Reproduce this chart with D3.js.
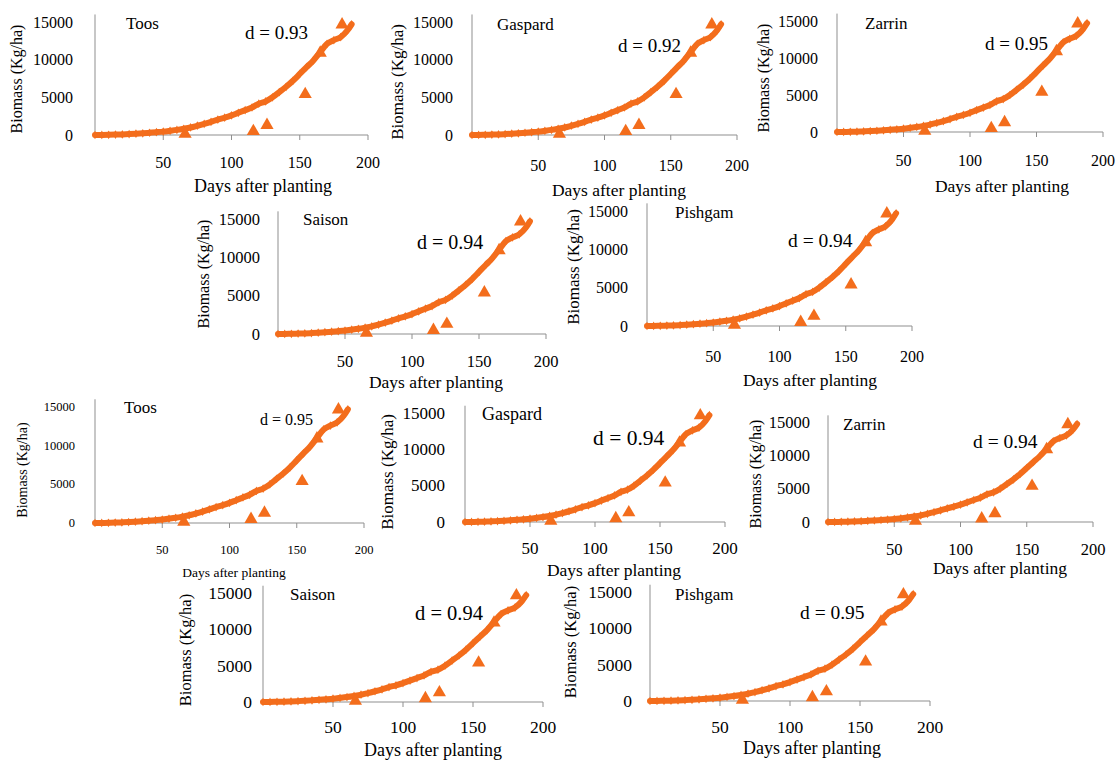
<!DOCTYPE html>
<html><head><meta charset="utf-8">
<script src="https://cdn.jsdelivr.net/npm/d3@7/dist/d3.min.js"></script>
<style>
html,body{margin:0;padding:0;background:#fff;}
svg text{font-family:"Liberation Serif","Times New Roman",serif;fill:#000;}
</style></head>
<body>
<svg id="chart" width="1119" height="760"></svg>
<script>
// ---- data ----
const cultivars = ["Toos","Gaspard","Zarrin","Saison","Pishgam","Toos","Gaspard","Zarrin","Saison","Pishgam"];
const dValues = ["0.93","0.92","0.95","0.94","0.94","0.95","0.94","0.94","0.94","0.95"];
const simDays = [0,5,10,15,20,25,30,35,40,45,50,55,60,65,70,75,80,85,90,95,100,105,110,115,120,125,130,135,140,145,150,155,160,165,170,175,180,185,188];
const simBiomass = [0,10,25,50,80,120,170,230,300,370,450,560,680,830,1000,1230,1480,1750,2050,2300,2600,2950,3300,3650,4150,4450,5000,5700,6400,7200,8100,9000,9900,11000,12100,12600,13000,13900,14700];
const obsDays = [66,116,126,154,165,181];
const obsBiomass = [150,500,1300,5400,10900,14650];
const xTicks = [50,100,150,200];
const yTicks = [0,5000,10000,15000];
const xTitle = "Days after planting";
const yTitle = "Biomass (Kg/ha)";

// ---- layout (positions & font sizes per panel) ----
const layout = [
 {ax:95, x200:368, y0:135, y15:22, tickR:73, xLabY:162, xt:[263,186], yt:[16,79], nm:[126,23], d:[245,32], f:[16,18,16,17,19]},
 {ax:472, x200:737, y0:135, y15:22, tickR:453, xLabY:165, xt:[619,190], yt:[397,82], nm:[497,24], d:[618,45], f:[16,17.5,17,17,19]},
 {ax:837, x200:1103, y0:132, y15:21, tickR:818, xLabY:160, xt:[1002,186], yt:[763,78], nm:[865,23], d:[985,43], f:[16,17.5,16,17,19]},
 {ax:278, x200:546, y0:334, y15:219, tickR:260, xLabY:361, xt:[436,382], yt:[203,274], nm:[303,219], d:[417,242], f:[16.5,17.5,16,17,20]},
 {ax:647, x200:912, y0:326, y15:211, tickR:628, xLabY:356, xt:[810,380], yt:[573,267], nm:[675,212], d:[788,240], f:[16,17.5,17,17,19.5]},
 {ax:95, x200:364, y0:523, y15:407, tickR:75, xLabY:550, xt:[234,572], yt:[22,470], nm:[124,407], d:[260,419], f:[12.5,13.5,14,17,16]},
 {ax:465, x200:725, y0:522, y15:413, tickR:445, xLabY:548, xt:[614,570], yt:[387,472], nm:[482,414], d:[593,438], f:[17,17.5,17,18,21.5]},
 {ax:828, x200:1093, y0:522, y15:422, tickR:810, xLabY:549, xt:[1000,568], yt:[755,474], nm:[843,424], d:[973,441], f:[16.5,17.5,16,17,19.5]},
 {ax:263, x200:543, y0:702, y15:593, tickR:252, xLabY:727, xt:[433,750], yt:[185,650], nm:[290,594], d:[415,613], f:[17.5,18,16.5,17,20.5]},
 {ax:650, x200:930, y0:701, y15:592, tickR:632, xLabY:727, xt:[812,748], yt:[570,642], nm:[675,594], d:[800,612], f:[17.5,18,16.5,17,19.5]}
];

const ORANGE = "#f36d1c";
const AXIS = "#8f8f8f";
const svg = d3.select("#chart");
const sim = simDays.map((d,i)=>({x:d,y:simBiomass[i]}));
const obs = obsDays.map((d,i)=>({x:d,y:obsBiomass[i]}));

layout.forEach((L,i)=>{
  const x = d3.scaleLinear().domain([0,200]).range([L.ax, L.x200]);
  const y = d3.scaleLinear().domain([0,15000]).range([L.y0, L.y15]);
  const g = svg.append("g");
  const yTop = y(16000);

  // axes lines
  g.append("line").attr("x1",L.ax).attr("x2",L.ax).attr("y1",yTop).attr("y2",L.y0)
    .attr("stroke",AXIS).attr("stroke-width",1);
  g.append("line").attr("x1",L.ax).attr("x2",L.x200).attr("y1",L.y0).attr("y2",L.y0)
    .attr("stroke",AXIS).attr("stroke-width",1);
  g.selectAll(".xt").data(xTicks).enter().append("line")
    .attr("x1",d=>x(d)).attr("x2",d=>x(d)).attr("y1",L.y0).attr("y2",L.y0+5)
    .attr("stroke",AXIS).attr("stroke-width",1);

  // tick labels
  g.selectAll(".xl").data(xTicks).enter().append("text")
    .attr("x",d=>x(d)).attr("y",L.xLabY).attr("text-anchor","middle")
    .attr("dominant-baseline","central").attr("font-size",L.f[0]).text(d=>d);
  g.selectAll(".yl").data(yTicks).enter().append("text")
    .attr("x",L.tickR).attr("y",d=>y(d)).attr("text-anchor","end")
    .attr("dominant-baseline","central").attr("font-size",L.f[0]).text(d=>d);

  // titles
  g.append("text").attr("x",L.xt[0]).attr("y",L.xt[1]).attr("text-anchor","middle")
    .attr("dominant-baseline","central").attr("font-size",L.f[1]).text(xTitle);
  g.append("text").attr("transform",`translate(${L.yt[0]},${L.yt[1]}) rotate(-90)`)
    .attr("text-anchor","middle").attr("dominant-baseline","central")
    .attr("font-size",L.f[2]).text(yTitle);
  g.append("text").attr("x",L.nm[0]).attr("y",L.nm[1]).attr("dominant-baseline","central")
    .attr("font-size",L.f[3]).text(cultivars[i]);
  g.append("text").attr("x",L.d[0]).attr("y",L.d[1]).attr("dominant-baseline","central")
    .attr("font-size",L.f[4]).text("d = " + dValues[i]);

  // simulated curve (thick line of markers)
  const line = d3.line().x(d=>x(d.x)).y(d=>y(d.y)).curve(d3.curveMonotoneX);
  g.append("path").datum(sim).attr("d",line).attr("fill","none")
    .attr("stroke",ORANGE).attr("stroke-width",6).attr("stroke-linejoin","round").attr("stroke-linecap","round");
  g.selectAll(".sm").data(sim).enter().append("path")
    .attr("transform",d=>`translate(${x(d.x)},${y(d.y)})`)
    .attr("d",d3.symbol().type(d3.symbolDiamond).size(22)).attr("fill",ORANGE);

  // observed triangles
  g.selectAll(".ob").data(obs).enter().append("path")
    .attr("transform",d=>`translate(${x(d.x)},${y(d.y)})`)
    .attr("d",d3.symbol().type(d3.symbolTriangle).size(75)).attr("fill",ORANGE);
});
</script>
</body></html>
